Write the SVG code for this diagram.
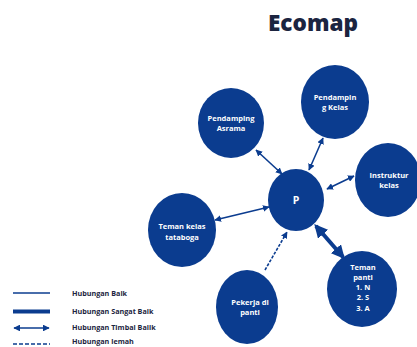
<svg xmlns="http://www.w3.org/2000/svg" width="417" height="347" viewBox="0 0 417 347">
<style>
.node{fill:#0b3c8f}
.nt{fill:#fff;font-family:"Open Sans",sans-serif;font-weight:700;font-size:7.5px;text-anchor:middle}
.lt{fill:#1b2440;font-family:"Open Sans",sans-serif;font-weight:700;font-size:7.2px}
.c{stroke:#0b3c8f;stroke-width:1.6;fill:none}
</style>
<defs>
<marker id="ah" viewBox="0 0 10 10" refX="9" refY="5" markerWidth="4.2" markerHeight="4.2" orient="auto-start-reverse" markerUnits="strokeWidth">
<path d="M0,0 L10,5 L0,10 z" fill="#0b3c8f"/>
</marker>
<marker id="ahb" viewBox="0 0 10 10" refX="8" refY="5" markerWidth="3.4" markerHeight="3.4" orient="auto-start-reverse" markerUnits="strokeWidth">
<path d="M0,0 L10,5 L0,10 z" fill="#0b3c8f"/>
</marker>
</defs>
<rect width="417" height="347" fill="#fff"/>
<text x="313" y="31" font-family="Open Sans, sans-serif" font-weight="800" font-size="23" fill="#1b2440" text-anchor="middle" textLength="90" lengthAdjust="spacingAndGlyphs">Ecomap</text>
<g id="connectors">
<line class="c" x1="256" y1="150" x2="282" y2="174" marker-start="url(#ah)" marker-end="url(#ah)"/>
<line class="c" x1="323" y1="138" x2="309" y2="170" marker-start="url(#ah)" marker-end="url(#ah)"/>
<line class="c" x1="354" y1="176" x2="327" y2="189" marker-start="url(#ah)" marker-end="url(#ah)"/>
<line class="c" x1="215" y1="220" x2="269" y2="207" marker-start="url(#ah)" marker-end="url(#ah)"/>
<line class="c" x1="265" y1="270" x2="287" y2="232" style="stroke-dasharray:3,1.5" marker-end="url(#ah)"/>
<line class="c" x1="316" y1="226" x2="343" y2="257" style="stroke-width:4" marker-start="url(#ahb)" marker-end="url(#ahb)"/>
</g>
<g id="n-asrama"><ellipse class="node" cx="231" cy="123" rx="33" ry="35"/><text class="nt" x="231" y="121">Pendamping</text><text class="nt" x="231" y="131">Asrama</text></g>
<g id="n-kelas"><ellipse class="node" cx="335" cy="102" rx="34" ry="37"/><text class="nt" x="335" y="100">Pendampin</text><text class="nt" x="335" y="110">g Kelas</text></g>
<g id="n-instruktur"><ellipse class="node" cx="388" cy="180" rx="33" ry="37"/><text class="nt" x="389" y="178">Instruktur</text><text class="nt" x="389" y="188">kelas</text></g>
<g id="n-p"><ellipse class="node" cx="296" cy="200" rx="28" ry="31"/><text class="nt" x="296" y="204" style="font-size:10.5px">P</text></g>
<g id="n-tataboga"><ellipse class="node" cx="182" cy="230" rx="34" ry="37"/><text class="nt" x="182" y="229">Teman kelas</text><text class="nt" x="182" y="240">tataboga</text></g>
<g id="n-pekerja"><ellipse class="node" cx="247" cy="307" rx="31" ry="37"/><text class="nt" x="250" y="305">Pekerja di</text><text class="nt" x="250" y="315">panti</text></g>
<g id="n-temanpanti"><ellipse class="node" cx="362" cy="289" rx="35" ry="38"/><text class="nt" x="363" y="270">Teman</text><text class="nt" x="363" y="280">panti</text><text class="nt" x="363" y="290">1. N</text><text class="nt" x="363" y="300">2. S</text><text class="nt" x="363" y="311">3. A</text></g>
<g id="legend">
<line x1="13" y1="293" x2="50" y2="293" stroke="#0b3c8f" stroke-width="1.5"/>
<line x1="13" y1="311.5" x2="50" y2="311.5" stroke="#0b3c8f" stroke-width="4"/>
<line class="c" x1="14" y1="328" x2="49" y2="328" marker-start="url(#ah)" marker-end="url(#ah)"/>
<line x1="13" y1="344" x2="50" y2="344" stroke="#0b3c8f" stroke-width="1.5" stroke-dasharray="4,2"/>
<text class="lt" x="72" y="296">Hubungan Baik</text>
<text class="lt" x="72" y="314">Hubungan Sangat Baik</text>
<text class="lt" x="72" y="330">Hubungan Timbal Balik</text>
<text class="lt" x="72" y="344">Hubungan lemah</text>
</g>
</svg>
